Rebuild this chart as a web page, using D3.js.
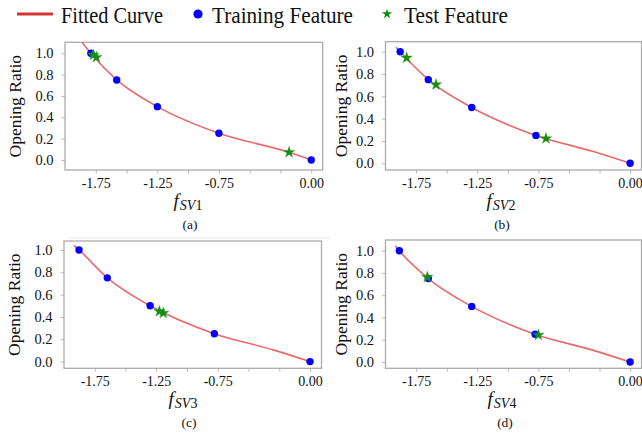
<!DOCTYPE html>
<html><head><meta charset="utf-8">
<script src="https://cdn.jsdelivr.net/npm/d3@7"></script>
<style>
html,body{margin:0;padding:0;background:#fff;}
svg{display:block;}
</style></head>
<body>
<svg id="chart" width="642" height="437"></svg>
<script>
// ---------------- data ----------------
const legendLabels = ["Fitted Curve", "Training Feature", "Test Feature"];
const xTicks = [-1.75, -1.5, -1.25, -1.0, -0.75, -0.5, -0.25, 0.0];
const xTickLabels = [-1.75, -1.25, -0.75, 0.0];
const yTicks = [0.0, 0.2, 0.4, 0.6, 0.8, 1.0];
const panelCaptions = ["(a)", "(b)", "(c)", "(d)"];
const featureSubs = ["SV1", "SV2", "SV3", "SV4"];
const yLabel = "Opening Ratio";

// panel (a)
const trainA_x = [-1.79, -1.58, -1.25, -0.75, 0.0];
const trainA_y = [1.0, 0.75, 0.5, 0.25, 0.0];
const testA_x = [-1.77, -1.745, -0.18];
const testA_y = [0.985, 0.962, 0.072];
const curveA_x = [-1.88, -1.79, -1.58, -1.25, -0.75, -0.18, 0.0];
const curveA_y = [1.13, 1.0, 0.75, 0.5, 0.25, 0.072, 0.0];

// panel (b)
const trainB_x = [-1.88, -1.65, -1.295, -0.77, 0.0];
const trainB_y = [1.0, 0.75, 0.5, 0.25, 0.0];
const testB_x = [-1.827, -1.587, -0.688];
const testB_y = [0.945, 0.705, 0.222];
const curveB_x = [-1.914, -1.88, -1.65, -1.295, -0.77, -0.3, 0.0];
const curveB_y = [1.04, 1.0, 0.75, 0.5, 0.25, 0.105, 0.0];

// panel (c)
const trainC_x = [-1.878, -1.648, -1.30, -0.778, 0.0];
const trainC_y = [1.0, 0.75, 0.5, 0.25, 0.0];
const testC_x = [-1.225, -1.193];
const testC_y = [0.45, 0.435];
const curveC_x = [-1.92, -1.878, -1.648, -1.30, -0.778, -0.3, 0.0];
const curveC_y = [1.04, 1.0, 0.75, 0.5, 0.25, 0.105, 0.0];

// panel (d)
const trainD_x = [-1.887, -1.65, -1.295, -0.777, 0.0];
const trainD_y = [1.0, 0.75, 0.5, 0.25, 0.0];
const testD_x = [-1.658, -0.75];
const testD_y = [0.762, 0.243];
const curveD_x = [-1.92, -1.887, -1.65, -1.295, -0.777, -0.3, 0.0];
const curveD_y = [1.045, 1.0, 0.75, 0.5, 0.25, 0.105, 0.0];

// ---------------- layout ----------------
const xDomain = [-2.0, 0.093];
const panels = [
  {train:[trainA_x,trainA_y], test:[testA_x,testA_y], curve:[curveA_x,curveA_y],
   box:{l:65, r:322.7, t:42.3, b:170}, yDom:[-0.094, 1.103], ylabX:21, xlabX:188, capX:190},
  {train:[trainB_x,trainB_y], test:[testB_x,testB_y], curve:[curveB_x,curveB_y],
   box:{l:385.5, r:641.5, t:41.7, b:170}, yDom:[-0.06, 1.09], ylabX:346.5, xlabX:501, capX:502},
  {train:[trainC_x,trainC_y], test:[testC_x,testC_y], curve:[curveC_x,curveC_y],
   box:{l:64, r:321.5, t:241, b:368.3}, yDom:[-0.06, 1.08], ylabX:20, xlabX:183, capX:189},
  {train:[trainD_x,trainD_y], test:[testD_x,testD_y], curve:[curveD_x,curveD_y],
   box:{l:385.5, r:641.5, t:240, b:368.3}, yDom:[-0.056, 1.096], ylabX:346.5, xlabX:502, capX:505}
];

const serif = "'Liberation Serif','Times New Roman',serif";
const curveColor = "#e86a6a";
const dotColor = "#0000ff";
const starColor = "#128c12";
const frameColor = "#ababab";

const svg = d3.select("#chart");
const zip = (xs, ys) => xs.map((x, i) => [x, ys[i]]);

panels.forEach((p, i) => {
  const b = p.box;
  const x = d3.scaleLinear().domain(xDomain).range([b.l, b.r]);
  const y = d3.scaleLinear().domain(p.yDom).range([b.b, b.t]);
  const g = svg.append("g");

  const clipId = "clip" + i;
  svg.append("clipPath").attr("id", clipId).append("rect")
    .attr("x", b.l).attr("y", b.t).attr("width", b.r - b.l).attr("height", b.b - b.t);

  // x axis ticks
  const xAxis = d3.axisBottom(x).tickValues(xTicks).tickSize(3.5).tickPadding(4)
    .tickFormat(v => xTickLabels.includes(v) ? v.toFixed(2) : "");
  const gx = g.append("g").attr("transform", `translate(0,${b.b})`).call(xAxis);
  gx.select(".domain").remove();
  gx.selectAll(".tick line").attr("stroke", "#b8b8b8").attr("stroke-width", 1);
  gx.selectAll(".tick text").attr("font-family", serif).attr("font-size", 14)
    .attr("fill", "#111").attr("dy", "0.72em");

  // y axis ticks
  const yAxis = d3.axisLeft(y).tickValues(yTicks).tickSize(3.5).tickPadding(8)
    .tickFormat(v => v.toFixed(1));
  const gy = g.append("g").attr("transform", `translate(${b.l},0)`).call(yAxis);
  gy.select(".domain").remove();
  gy.selectAll(".tick line").attr("stroke", "#b8b8b8").attr("stroke-width", 1);
  gy.selectAll(".tick text").attr("font-family", serif).attr("font-size", 14.5)
    .attr("fill", "#111");

  // frame
  g.append("rect").attr("x", b.l).attr("y", b.t).attr("width", b.r - b.l).attr("height", b.b - b.t)
    .attr("fill", "none").attr("stroke", frameColor).attr("stroke-width", 1.3);

  // fitted curve
  const line = d3.line().x(d => x(d[0])).y(d => y(d[1])).curve(d3.curveMonotoneX);
  g.append("path").datum(zip(p.curve[0], p.curve[1]))
    .attr("d", line).attr("fill", "none").attr("stroke", curveColor)
    .attr("stroke-width", 1.6).attr("clip-path", `url(#${clipId})`);

  // training points
  g.selectAll(".dot").data(zip(p.train[0], p.train[1])).join("circle")
    .attr("cx", d => x(d[0])).attr("cy", d => y(d[1])).attr("r", 3.7)
    .attr("fill", dotColor);

  // test points
  const star = d3.symbol().type(d3.symbolStar).size(40);
  g.selectAll(".star").data(zip(p.test[0], p.test[1])).join("path")
    .attr("d", star).attr("transform", d => `translate(${x(d[0])},${y(d[1])})`)
    .attr("fill", starColor).attr("stroke", "#2aa02a").attr("stroke-width", 0.4);

  // y label
  const cy = (b.t + b.b) / 2;
  g.append("text").attr("transform", `translate(${p.ylabX},${cy}) rotate(-90)`)
    .attr("text-anchor", "middle").attr("font-family", serif).attr("font-size", 17.5)
    .attr("fill", "#111").text(yLabel);

  // x label  f_{SVn}
  const xl = g.append("text").attr("x", p.xlabX).attr("y", b.b + 37)
    .attr("text-anchor", "middle").attr("font-family", serif).attr("fill", "#111");
  xl.append("tspan").attr("font-style", "italic").attr("font-size", 19).text("f");
  const sub = featureSubs[i];
  xl.append("tspan").attr("font-style", "italic").attr("font-size", 14).attr("dy", 3)
    .attr("dx", 1).text(sub.slice(0, 2));
  xl.append("tspan").attr("font-size", 14).text(sub.slice(2));

  // caption
  g.append("text").attr("x", p.capX).attr("y", b.b + 59).attr("text-anchor", "middle")
    .attr("font-family", serif).attr("font-size", 13.5).attr("fill", "#111")
    .text(panelCaptions[i]);
});

// faint separator line below panel (a)
svg.append("line").attr("x1", 67).attr("x2", 330).attr("y1", 238).attr("y2", 238)
  .attr("stroke", "#ececec").attr("stroke-width", 1);

// ---------------- legend ----------------
const lg = svg.append("g");
lg.append("line").attr("x1", 17).attr("x2", 53).attr("y1", 14).attr("y2", 14)
  .attr("stroke", "#d63434").attr("stroke-width", 3);
lg.append("text").attr("x", 61).attr("y", 23).attr("font-family", serif).attr("font-size", 24)
  .attr("textLength", 102).attr("lengthAdjust", "spacingAndGlyphs").attr("fill", "#111")
  .text(legendLabels[0]);
lg.append("circle").attr("cx", 198).attr("cy", 14).attr("r", 4.6).attr("fill", dotColor);
lg.append("text").attr("x", 212).attr("y", 23).attr("font-family", serif).attr("font-size", 24)
  .attr("textLength", 141).attr("lengthAdjust", "spacingAndGlyphs").attr("fill", "#111")
  .text(legendLabels[1]);
lg.append("path").attr("d", d3.symbol().type(d3.symbolStar).size(32))
  .attr("transform", "translate(387,14)").attr("fill", starColor);
lg.append("text").attr("x", 404).attr("y", 23).attr("font-family", serif).attr("font-size", 24)
  .attr("textLength", 104).attr("lengthAdjust", "spacingAndGlyphs").attr("fill", "#111")
  .text(legendLabels[2]);
</script>
</body></html>
